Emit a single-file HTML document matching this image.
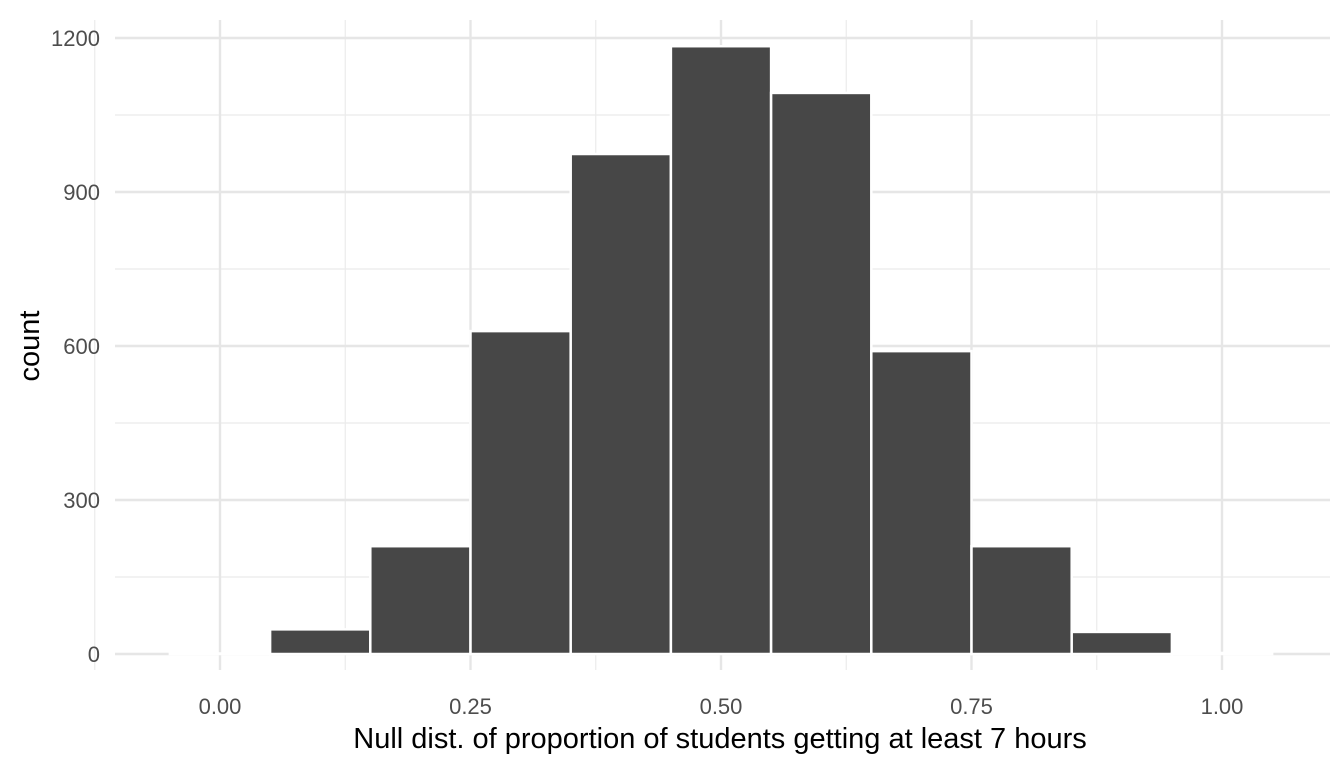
<!DOCTYPE html>
<html><head><meta charset="utf-8"><style>
html,body{margin:0;padding:0;background:#fff;}
svg{display:block;font-family:"Liberation Sans",Arial,sans-serif;}
</style></head><body>
<svg id="chart" width="1344" height="768">
<g id="grid"></g>
<g id="bars"></g>
<g id="axes"></g>
<text x="720" y="748" text-anchor="middle" font-size="29" fill="#000">Null dist. of proportion of students getting at least 7 hours</text>
<text transform="translate(39,346) rotate(-90)" text-anchor="middle" font-size="29" fill="#000">count</text>
</svg>
<script>
const binCenters=[0,0.1,0.2,0.3,0.4,0.5,0.6,0.7,0.8,0.9,1.0];
const counts=[1,48,210,629,974,1184,1093,590,210,43,2];
const xTicks=[0,0.25,0.5,0.75,1.0];
const xTickLabels=["0.00","0.25","0.50","0.75","1.00"];
const yTicks=[0,300,600,900,1200];
const yTickLabels=["0","300","600","900","1200"];
const binWidth=0.1;
const NS="http://www.w3.org/2000/svg";
const X=v=>220+v*1002;
const Y=v=>654-v*(616/1200);
const L=115,R=1330,T=20,B=670;
function mk(tag,attrs,parent){const e=document.createElementNS(NS,tag);for(const k in attrs)e.setAttribute(k,attrs[k]);parent.appendChild(e);return e;}
const grid=document.getElementById('grid'),bars=document.getElementById('bars'),axes=document.getElementById('axes');
for(let i=0;i<yTicks.length-1;i++){const v=(yTicks[i]+yTicks[i+1])/2;const l=mk('line',{x1:L,x2:R,y1:Y(v),y2:Y(v),stroke:'#ebebeb','stroke-width':1.2},grid);

}
for(let i=-1;i<xTicks.length;i++){const v=i<0?-0.125:(xTicks[i]+0.125);if(X(v)>R)continue;const l=mk('line',{x1:X(v),x2:X(v),y1:T,y2:B,stroke:'#ebebeb','stroke-width':1.2},grid);

}
yTicks.forEach((v,i)=>{const l=mk('line',{x1:L,x2:R,y1:Y(v),y2:Y(v),stroke:'#e6e6e6','stroke-width':2.4},grid);


const t=mk('text',{x:100,y:Y(v)+8,'text-anchor':'end','font-size':22,fill:'#4d4d4d'},axes);t.textContent=yTickLabels[i];

});
xTicks.forEach((v,i)=>{const l=mk('line',{x1:X(v),x2:X(v),y1:T,y2:B,stroke:'#e6e6e6','stroke-width':2.4},grid);


const t=mk('text',{x:X(v),y:714,'text-anchor':'middle','font-size':22,fill:'#4d4d4d'},axes);t.textContent=xTickLabels[i];

});
binCenters.forEach((c,i)=>{const x0=X(c-binWidth/2),x1=X(c+binWidth/2),y=Y(counts[i]);
const r=mk('rect',{x:x0,y:y,width:x1-x0,height:Y(0)-y,fill:'#474747',stroke:'#fff','stroke-width':2.5},bars);

});
</script>
</body></html>
